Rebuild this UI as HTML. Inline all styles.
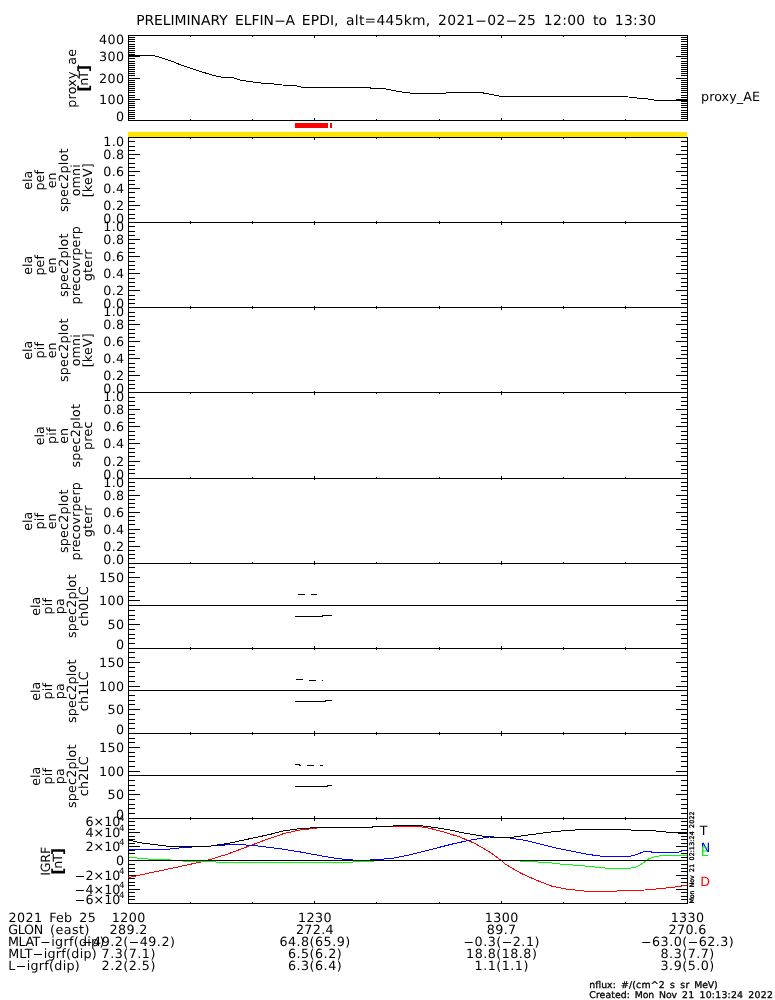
<!DOCTYPE html>
<html lang="en"><head><meta charset="utf-8"><title>ELFIN-A EPDI</title>
<style>html,body{margin:0;padding:0;background:#fff}svg{display:block}</style></head>
<body>
<svg width="775" height="1000" viewBox="0 0 775 1000" font-family='"DejaVu Sans", "Liberation Sans", sans-serif' text-rendering="geometricPrecision">
<rect width="775" height="1000" fill="#fff"/>
<text y="24.80" font-size="13.90"><tspan x="136.18" textLength="91.46" lengthAdjust="spacing">PRELIMINARY</tspan> <tspan x="235.03" textLength="38.99" lengthAdjust="spacing">ELFIN</tspan><tspan x="274.01" textLength="12.06" lengthAdjust="spacingAndGlyphs">-</tspan><tspan x="285.49">A</tspan> <tspan x="301.87" textLength="36.60" lengthAdjust="spacing">EPDI,</tspan> <tspan x="346.05" textLength="84.21" lengthAdjust="spacing">alt=445km,</tspan> <tspan x="438.02" textLength="36.68" lengthAdjust="spacing">2021</tspan><tspan x="474.92" textLength="12.06" lengthAdjust="spacingAndGlyphs">-</tspan><tspan x="487.20" textLength="18.12" lengthAdjust="spacing">02</tspan><tspan x="505.54" textLength="12.06" lengthAdjust="spacingAndGlyphs">-</tspan><tspan x="517.83" textLength="18.12" lengthAdjust="spacing">25</tspan> <tspan x="543.76" textLength="41.42" lengthAdjust="spacing">12:00</tspan> <tspan x="592.88" textLength="14.17" lengthAdjust="spacing">to</tspan> <tspan x="614.75" textLength="41.42" lengthAdjust="spacing">13:30</tspan></text>
<g shape-rendering="crispEdges">
<rect x="128" y="132" width="559" height="5" fill="#ffe600"/>
<rect x="295" y="123" width="33" height="5" fill="#ff0000"/>
<rect x="330" y="123" width="2" height="5" fill="#ff0000"/>
</g>
<text x="116.02" y="120.90" font-size="12.70">0</text>
<text x="99.06" y="103.95" font-size="12.70" textLength="25.04" lengthAdjust="spacing">100</text>
<text x="99.06" y="82.95" font-size="12.70" textLength="25.04" lengthAdjust="spacing">200</text>
<text x="99.06" y="60.95" font-size="12.70" textLength="25.04" lengthAdjust="spacing">300</text>
<text x="99.06" y="44.20" font-size="12.70" textLength="25.04" lengthAdjust="spacing">400</text>
<text x="103.27" y="222.90" font-size="12.70" textLength="20.87" lengthAdjust="spacing">0.0</text>
<text x="103.27" y="209.95" font-size="12.70" textLength="20.87" lengthAdjust="spacing">0.2</text>
<text x="103.27" y="192.95" font-size="12.70" textLength="20.87" lengthAdjust="spacing">0.4</text>
<text x="103.27" y="175.95" font-size="12.70" textLength="20.87" lengthAdjust="spacing">0.6</text>
<text x="103.27" y="158.95" font-size="12.70" textLength="20.87" lengthAdjust="spacing">0.8</text>
<text x="103.27" y="146.20" font-size="12.70" textLength="20.87" lengthAdjust="spacing">1.0</text>
<text x="103.27" y="307.90" font-size="12.70" textLength="20.87" lengthAdjust="spacing">0.0</text>
<text x="103.27" y="294.95" font-size="12.70" textLength="20.87" lengthAdjust="spacing">0.2</text>
<text x="103.27" y="277.95" font-size="12.70" textLength="20.87" lengthAdjust="spacing">0.4</text>
<text x="103.27" y="260.95" font-size="12.70" textLength="20.87" lengthAdjust="spacing">0.6</text>
<text x="103.27" y="243.95" font-size="12.70" textLength="20.87" lengthAdjust="spacing">0.8</text>
<text x="103.27" y="231.20" font-size="12.70" textLength="20.87" lengthAdjust="spacing">1.0</text>
<text x="103.27" y="392.90" font-size="12.70" textLength="20.87" lengthAdjust="spacing">0.0</text>
<text x="103.27" y="379.95" font-size="12.70" textLength="20.87" lengthAdjust="spacing">0.2</text>
<text x="103.27" y="362.95" font-size="12.70" textLength="20.87" lengthAdjust="spacing">0.4</text>
<text x="103.27" y="345.95" font-size="12.70" textLength="20.87" lengthAdjust="spacing">0.6</text>
<text x="103.27" y="328.95" font-size="12.70" textLength="20.87" lengthAdjust="spacing">0.8</text>
<text x="103.27" y="316.20" font-size="12.70" textLength="20.87" lengthAdjust="spacing">1.0</text>
<text x="103.27" y="478.90" font-size="12.70" textLength="20.87" lengthAdjust="spacing">0.0</text>
<text x="103.27" y="465.95" font-size="12.70" textLength="20.87" lengthAdjust="spacing">0.2</text>
<text x="103.27" y="447.95" font-size="12.70" textLength="20.87" lengthAdjust="spacing">0.4</text>
<text x="103.27" y="430.95" font-size="12.70" textLength="20.87" lengthAdjust="spacing">0.6</text>
<text x="103.27" y="413.95" font-size="12.70" textLength="20.87" lengthAdjust="spacing">0.8</text>
<text x="103.27" y="401.20" font-size="12.70" textLength="20.87" lengthAdjust="spacing">1.0</text>
<text x="103.27" y="563.90" font-size="12.70" textLength="20.87" lengthAdjust="spacing">0.0</text>
<text x="103.27" y="550.95" font-size="12.70" textLength="20.87" lengthAdjust="spacing">0.2</text>
<text x="103.27" y="533.95" font-size="12.70" textLength="20.87" lengthAdjust="spacing">0.4</text>
<text x="103.27" y="516.95" font-size="12.70" textLength="20.87" lengthAdjust="spacing">0.6</text>
<text x="103.27" y="499.95" font-size="12.70" textLength="20.87" lengthAdjust="spacing">0.8</text>
<text x="103.27" y="487.20" font-size="12.70" textLength="20.87" lengthAdjust="spacing">1.0</text>
<text x="116.02" y="648.90" font-size="12.70">0</text>
<text x="107.54" y="628.95" font-size="12.70" textLength="16.56" lengthAdjust="spacing">50</text>
<text x="99.06" y="604.95" font-size="12.70" textLength="25.04" lengthAdjust="spacing">100</text>
<text x="99.06" y="581.95" font-size="12.70" textLength="25.04" lengthAdjust="spacing">150</text>
<text x="116.02" y="733.90" font-size="12.70">0</text>
<text x="107.54" y="713.95" font-size="12.70" textLength="16.56" lengthAdjust="spacing">50</text>
<text x="99.06" y="690.95" font-size="12.70" textLength="25.04" lengthAdjust="spacing">100</text>
<text x="99.06" y="666.95" font-size="12.70" textLength="25.04" lengthAdjust="spacing">150</text>
<text x="116.02" y="818.90" font-size="12.70">0</text>
<text x="107.54" y="798.95" font-size="12.70" textLength="16.56" lengthAdjust="spacing">50</text>
<text x="99.06" y="775.95" font-size="12.70" textLength="25.04" lengthAdjust="spacing">100</text>
<text x="99.06" y="751.95" font-size="12.70" textLength="25.04" lengthAdjust="spacing">150</text>
<text y="904.00" font-size="12.70"><tspan x="74.51" textLength="11.02" lengthAdjust="spacingAndGlyphs">-</tspan><tspan x="85.52" textLength="34.80" lengthAdjust="spacing">6×10</tspan></text>
<text x="119.04" y="898.10" font-size="8.69">4</text>
<text y="893.95" font-size="12.70"><tspan x="74.51" textLength="11.02" lengthAdjust="spacingAndGlyphs">-</tspan><tspan x="85.52" textLength="34.80" lengthAdjust="spacing">4×10</tspan></text>
<text x="119.04" y="888.05" font-size="8.69">4</text>
<text y="879.95" font-size="12.70"><tspan x="74.51" textLength="11.02" lengthAdjust="spacingAndGlyphs">-</tspan><tspan x="85.52" textLength="34.80" lengthAdjust="spacing">2×10</tspan></text>
<text x="119.04" y="874.05" font-size="8.69">4</text>
<text x="116.02" y="864.95" font-size="12.70">0</text>
<text x="85.52" y="850.95" font-size="12.70" textLength="34.80" lengthAdjust="spacing">2×10</text>
<text x="119.04" y="845.05" font-size="8.69">4</text>
<text x="85.52" y="836.95" font-size="12.70" textLength="34.80" lengthAdjust="spacing">4×10</text>
<text x="119.04" y="831.05" font-size="8.69">4</text>
<text x="85.52" y="826.40" font-size="12.70" textLength="34.80" lengthAdjust="spacing">6×10</text>
<text x="119.04" y="820.50" font-size="8.69">4</text>
<text x="-29.37" y="0.00" font-size="12.70" textLength="58.74" lengthAdjust="spacing" transform="translate(75.90 78.30) rotate(-90)">proxy_ae</text>
<text x="-13.36" y="0" font-size="12.70" textLength="26.71" lengthAdjust="spacing" transform="translate(88.00 78.30) rotate(-90)"><tspan font-weight="bold" font-size="15.5" dy="1.2">[</tspan><tspan dy="-1.2">nT</tspan><tspan font-weight="bold" font-size="15.5" dy="1.2">]</tspan></text>
<text x="-9.55" y="0.00" font-size="12.70" textLength="19.10" lengthAdjust="spacing" transform="translate(32.30 180.30) rotate(-90)">ela</text>
<text x="-10.32" y="0.00" font-size="12.70" textLength="20.63" lengthAdjust="spacing" transform="translate(44.20 180.30) rotate(-90)">pef</text>
<text x="-7.89" y="0.00" font-size="12.70" textLength="15.78" lengthAdjust="spacing" transform="translate(56.10 180.30) rotate(-90)">en</text>
<text x="-31.71" y="0.00" font-size="12.70" textLength="63.41" lengthAdjust="spacing" transform="translate(68.00 180.30) rotate(-90)">spec2plot</text>
<text x="-16.05" y="0.00" font-size="12.70" textLength="32.10" lengthAdjust="spacing" transform="translate(79.90 180.30) rotate(-90)">omni</text>
<text x="-17.07" y="0.00" font-size="12.70" textLength="34.14" lengthAdjust="spacing" transform="translate(91.80 180.30) rotate(-90)">[keV]</text>
<text x="-9.55" y="0.00" font-size="12.70" textLength="19.10" lengthAdjust="spacing" transform="translate(32.30 265.30) rotate(-90)">ela</text>
<text x="-10.32" y="0.00" font-size="12.70" textLength="20.63" lengthAdjust="spacing" transform="translate(44.20 265.30) rotate(-90)">pef</text>
<text x="-7.89" y="0.00" font-size="12.70" textLength="15.78" lengthAdjust="spacing" transform="translate(56.10 265.30) rotate(-90)">en</text>
<text x="-31.71" y="0.00" font-size="12.70" textLength="63.41" lengthAdjust="spacing" transform="translate(68.00 265.30) rotate(-90)">spec2plot</text>
<text x="-39.18" y="0.00" font-size="12.70" textLength="78.35" lengthAdjust="spacing" transform="translate(79.90 265.30) rotate(-90)">precovrperp</text>
<text x="-15.83" y="0.00" font-size="12.70" textLength="31.66" lengthAdjust="spacing" transform="translate(91.80 265.30) rotate(-90)">gterr</text>
<text x="-9.55" y="0.00" font-size="12.70" textLength="19.10" lengthAdjust="spacing" transform="translate(32.30 350.30) rotate(-90)">ela</text>
<text x="-8.19" y="0.00" font-size="12.70" textLength="16.38" lengthAdjust="spacing" transform="translate(44.20 350.30) rotate(-90)">pif</text>
<text x="-7.89" y="0.00" font-size="12.70" textLength="15.78" lengthAdjust="spacing" transform="translate(56.10 350.30) rotate(-90)">en</text>
<text x="-31.71" y="0.00" font-size="12.70" textLength="63.41" lengthAdjust="spacing" transform="translate(68.00 350.30) rotate(-90)">spec2plot</text>
<text x="-16.05" y="0.00" font-size="12.70" textLength="32.10" lengthAdjust="spacing" transform="translate(79.90 350.30) rotate(-90)">omni</text>
<text x="-17.07" y="0.00" font-size="12.70" textLength="34.14" lengthAdjust="spacing" transform="translate(91.80 350.30) rotate(-90)">[keV]</text>
<text x="-9.55" y="0.00" font-size="12.70" textLength="19.10" lengthAdjust="spacing" transform="translate(44.20 435.80) rotate(-90)">ela</text>
<text x="-8.19" y="0.00" font-size="12.70" textLength="16.38" lengthAdjust="spacing" transform="translate(56.10 435.80) rotate(-90)">pif</text>
<text x="-7.89" y="0.00" font-size="12.70" textLength="15.78" lengthAdjust="spacing" transform="translate(68.00 435.80) rotate(-90)">en</text>
<text x="-31.71" y="0.00" font-size="12.70" textLength="63.41" lengthAdjust="spacing" transform="translate(79.90 435.80) rotate(-90)">spec2plot</text>
<text x="-14.29" y="0.00" font-size="12.70" textLength="28.58" lengthAdjust="spacing" transform="translate(91.80 435.80) rotate(-90)">prec</text>
<text x="-9.55" y="0.00" font-size="12.70" textLength="19.10" lengthAdjust="spacing" transform="translate(32.30 521.30) rotate(-90)">ela</text>
<text x="-8.19" y="0.00" font-size="12.70" textLength="16.38" lengthAdjust="spacing" transform="translate(44.20 521.30) rotate(-90)">pif</text>
<text x="-7.89" y="0.00" font-size="12.70" textLength="15.78" lengthAdjust="spacing" transform="translate(56.10 521.30) rotate(-90)">en</text>
<text x="-31.71" y="0.00" font-size="12.70" textLength="63.41" lengthAdjust="spacing" transform="translate(68.00 521.30) rotate(-90)">spec2plot</text>
<text x="-39.18" y="0.00" font-size="12.70" textLength="78.35" lengthAdjust="spacing" transform="translate(79.90 521.30) rotate(-90)">precovrperp</text>
<text x="-15.83" y="0.00" font-size="12.70" textLength="31.66" lengthAdjust="spacing" transform="translate(91.80 521.30) rotate(-90)">gterr</text>
<text x="-9.55" y="0.00" font-size="12.70" textLength="19.10" lengthAdjust="spacing" transform="translate(40.10 606.30) rotate(-90)">ela</text>
<text x="-8.19" y="0.00" font-size="12.70" textLength="16.38" lengthAdjust="spacing" transform="translate(52.00 606.30) rotate(-90)">pif</text>
<text x="-7.99" y="0.00" font-size="12.70" textLength="15.98" lengthAdjust="spacing" transform="translate(63.90 606.30) rotate(-90)">pa</text>
<text x="-31.71" y="0.00" font-size="12.70" textLength="63.41" lengthAdjust="spacing" transform="translate(75.80 606.30) rotate(-90)">spec2plot</text>
<text x="-20.02" y="0.00" font-size="12.70" textLength="40.04" lengthAdjust="spacing" transform="translate(87.70 606.30) rotate(-90)">ch0LC</text>
<text x="-9.55" y="0.00" font-size="12.70" textLength="19.10" lengthAdjust="spacing" transform="translate(40.10 691.30) rotate(-90)">ela</text>
<text x="-8.19" y="0.00" font-size="12.70" textLength="16.38" lengthAdjust="spacing" transform="translate(52.00 691.30) rotate(-90)">pif</text>
<text x="-7.99" y="0.00" font-size="12.70" textLength="15.98" lengthAdjust="spacing" transform="translate(63.90 691.30) rotate(-90)">pa</text>
<text x="-31.71" y="0.00" font-size="12.70" textLength="63.41" lengthAdjust="spacing" transform="translate(75.80 691.30) rotate(-90)">spec2plot</text>
<text x="-20.02" y="0.00" font-size="12.70" textLength="40.04" lengthAdjust="spacing" transform="translate(87.70 691.30) rotate(-90)">ch1LC</text>
<text x="-9.55" y="0.00" font-size="12.70" textLength="19.10" lengthAdjust="spacing" transform="translate(40.10 776.30) rotate(-90)">ela</text>
<text x="-8.19" y="0.00" font-size="12.70" textLength="16.38" lengthAdjust="spacing" transform="translate(52.00 776.30) rotate(-90)">pif</text>
<text x="-7.99" y="0.00" font-size="12.70" textLength="15.98" lengthAdjust="spacing" transform="translate(63.90 776.30) rotate(-90)">pa</text>
<text x="-31.71" y="0.00" font-size="12.70" textLength="63.41" lengthAdjust="spacing" transform="translate(75.80 776.30) rotate(-90)">spec2plot</text>
<text x="-20.02" y="0.00" font-size="12.70" textLength="40.04" lengthAdjust="spacing" transform="translate(87.70 776.30) rotate(-90)">ch2LC</text>
<text x="-14.53" y="0.00" font-size="12.70" textLength="29.05" lengthAdjust="spacing" transform="translate(49.90 861.30) rotate(-90)">IGRF</text>
<text x="-13.36" y="0" font-size="12.70" textLength="26.71" lengthAdjust="spacing" transform="translate(62.00 861.30) rotate(-90)"><tspan font-weight="bold" font-size="15.5" dy="1.2">[</tspan><tspan dy="-1.2">nT</tspan><tspan font-weight="bold" font-size="15.5" dy="1.2">]</tspan></text>
<text x="701.03" y="101.00" font-size="12.70" textLength="58.88" lengthAdjust="spacing">proxy_AE</text>
<text x="699.81" y="835.00" font-size="12.70">T</text>
<text x="700.71" y="851.70" font-size="12.70" fill="#0000ff">N</text>
<text x="700.81" y="855.70" font-size="12.70" fill="#00ff00">E</text>
<text x="700.36" y="885.90" font-size="12.70" fill="#ff0000">D</text>
<text y="0.00" font-size="6.23" transform="translate(693.90 903.50) rotate(-90)" stroke="#000" stroke-width="0.35"><tspan x="-0.04" textLength="12.98" lengthAdjust="spacing">Mon</tspan> <tspan x="16.17" textLength="11.96" lengthAdjust="spacing">Nov</tspan> <tspan x="31.51" textLength="8.12" lengthAdjust="spacing">21</tspan> <tspan x="43.13" textLength="28.98" lengthAdjust="spacing">02:13:24</tspan> <tspan x="75.60" textLength="16.44" lengthAdjust="spacing">2022</tspan></text>
<path d="M128 35.5H688M128 120.5H688M128.5 35V121M687.5 35V121M128.5 36V38M128.5 118V120M190.5 36V37M190.5 119V120M252.5 36V37M252.5 119V120M314.5 36V38M314.5 118V120M376.5 36V37M376.5 119V120M439.5 36V37M439.5 119V120M501.5 36V38M501.5 118V120M563.5 36V37M563.5 119V120M625.5 36V37M625.5 119V120M687.5 36V38M687.5 118V120M129 120.5H140M676 120.5H687M129 118.5H135M681 118.5H687M129 116.5H135M681 116.5H687M129 114.5H135M681 114.5H687M129 112.5H135M681 112.5H687M129 110.5H135M681 110.5H687M129 107.5H135M681 107.5H687M129 105.5H135M681 105.5H687M129 103.5H135M681 103.5H687M129 101.5H135M681 101.5H687M129 99.5H140M676 99.5H687M129 97.5H135M681 97.5H687M129 95.5H135M681 95.5H687M129 92.5H135M681 92.5H687M129 90.5H135M681 90.5H687M129 88.5H135M681 88.5H687M129 86.5H135M681 86.5H687M129 84.5H135M681 84.5H687M129 82.5H135M681 82.5H687M129 80.5H135M681 80.5H687M129 78.5H140M676 78.5H687M129 75.5H135M681 75.5H687M129 73.5H135M681 73.5H687M129 71.5H135M681 71.5H687M129 69.5H135M681 69.5H687M129 67.5H135M681 67.5H687M129 65.5H135M681 65.5H687M129 63.5H135M681 63.5H687M129 61.5H135M681 61.5H687M129 58.5H135M681 58.5H687M129 56.5H140M676 56.5H687M129 54.5H135M681 54.5H687M129 52.5H135M681 52.5H687M129 50.5H135M681 50.5H687M129 48.5H135M681 48.5H687M129 46.5H135M681 46.5H687M129 44.5H135M681 44.5H687M129 41.5H135M681 41.5H687M129 39.5H135M681 39.5H687M129 37.5H135M681 37.5H687M129 35.5H140M676 35.5H687M128 137.5H688M128 222.5H688M128.5 137V223M687.5 137V223M128.5 138V140M128.5 221V222M190.5 138V139M190.5 221V222M252.5 138V139M252.5 221V222M314.5 138V140M314.5 221V222M376.5 138V139M376.5 221V222M439.5 138V139M439.5 221V222M501.5 138V140M501.5 221V222M563.5 138V139M563.5 221V222M625.5 138V139M625.5 221V222M687.5 138V140M687.5 221V222M129 222.5H140M676 222.5H687M129 218.5H135M681 218.5H687M129 214.5H135M681 214.5H687M129 209.5H135M681 209.5H687M129 205.5H140M676 205.5H687M129 201.5H135M681 201.5H687M129 197.5H135M681 197.5H687M129 192.5H135M681 192.5H687M129 188.5H140M676 188.5H687M129 184.5H135M681 184.5H687M129 180.5H135M681 180.5H687M129 175.5H135M681 175.5H687M129 171.5H140M676 171.5H687M129 167.5H135M681 167.5H687M129 163.5H135M681 163.5H687M129 158.5H135M681 158.5H687M129 154.5H140M676 154.5H687M129 150.5H135M681 150.5H687M129 146.5H135M681 146.5H687M129 141.5H135M681 141.5H687M129 137.5H140M676 137.5H687M128 222.5H688M128 307.5H688M128.5 222V308M687.5 222V308M128.5 223V225M128.5 306V307M190.5 223V224M190.5 306V307M252.5 223V224M252.5 306V307M314.5 223V225M314.5 306V307M376.5 223V224M376.5 306V307M439.5 223V224M439.5 306V307M501.5 223V225M501.5 306V307M563.5 223V224M563.5 306V307M625.5 223V224M625.5 306V307M687.5 223V225M687.5 306V307M129 307.5H140M676 307.5H687M129 303.5H135M681 303.5H687M129 299.5H135M681 299.5H687M129 295.5H135M681 295.5H687M129 290.5H140M676 290.5H687M129 286.5H135M681 286.5H687M129 282.5H135M681 282.5H687M129 278.5H135M681 278.5H687M129 273.5H140M676 273.5H687M129 269.5H135M681 269.5H687M129 265.5H135M681 265.5H687M129 261.5H135M681 261.5H687M129 256.5H140M676 256.5H687M129 252.5H135M681 252.5H687M129 248.5H135M681 248.5H687M129 243.5H135M681 243.5H687M129 239.5H140M676 239.5H687M129 235.5H135M681 235.5H687M129 231.5H135M681 231.5H687M129 226.5H135M681 226.5H687M129 222.5H140M676 222.5H687M128 307.5H688M128 392.5H688M128.5 307V393M687.5 307V393M128.5 308V310M128.5 391V392M190.5 308V309M252.5 308V309M314.5 308V310M314.5 391V392M376.5 308V309M439.5 308V309M501.5 308V310M501.5 391V392M563.5 308V309M625.5 308V309M687.5 308V310M687.5 391V392M129 392.5H140M676 392.5H687M129 388.5H135M681 388.5H687M129 384.5H135M681 384.5H687M129 380.5H135M681 380.5H687M129 375.5H140M676 375.5H687M129 371.5H135M681 371.5H687M129 367.5H135M681 367.5H687M129 363.5H135M681 363.5H687M129 358.5H140M676 358.5H687M129 354.5H135M681 354.5H687M129 350.5H135M681 350.5H687M129 346.5H135M681 346.5H687M129 341.5H140M676 341.5H687M129 337.5H135M681 337.5H687M129 333.5H135M681 333.5H687M129 329.5H135M681 329.5H687M129 324.5H140M676 324.5H687M129 320.5H135M681 320.5H687M129 316.5H135M681 316.5H687M129 312.5H135M681 312.5H687M129 307.5H140M676 307.5H687M128 392.5H688M128 478.5H688M128.5 392V479M687.5 392V479M128.5 393V395M128.5 476V478M190.5 393V394M190.5 477V478M252.5 393V394M252.5 477V478M314.5 393V395M314.5 476V478M376.5 393V394M376.5 477V478M439.5 393V394M439.5 477V478M501.5 393V395M501.5 476V478M563.5 393V394M563.5 477V478M625.5 393V394M625.5 477V478M687.5 393V395M687.5 476V478M129 478.5H140M676 478.5H687M129 473.5H135M681 473.5H687M129 469.5H135M681 469.5H687M129 465.5H135M681 465.5H687M129 461.5H140M676 461.5H687M129 456.5H135M681 456.5H687M129 452.5H135M681 452.5H687M129 448.5H135M681 448.5H687M129 443.5H140M676 443.5H687M129 439.5H135M681 439.5H687M129 435.5H135M681 435.5H687M129 431.5H135M681 431.5H687M129 426.5H140M676 426.5H687M129 422.5H135M681 422.5H687M129 418.5H135M681 418.5H687M129 414.5H135M681 414.5H687M129 409.5H140M676 409.5H687M129 405.5H135M681 405.5H687M129 401.5H135M681 401.5H687M129 397.5H135M681 397.5H687M129 392.5H140M676 392.5H687M128 478.5H688M128 563.5H688M128.5 478V564M687.5 478V564M128.5 479V480M128.5 561V563M190.5 562V563M252.5 562V563M314.5 479V480M314.5 561V563M376.5 562V563M439.5 562V563M501.5 479V480M501.5 561V563M563.5 562V563M625.5 562V563M687.5 479V480M687.5 561V563M129 563.5H140M676 563.5H687M129 558.5H135M681 558.5H687M129 554.5H135M681 554.5H687M129 550.5H135M681 550.5H687M129 546.5H140M676 546.5H687M129 541.5H135M681 541.5H687M129 537.5H135M681 537.5H687M129 533.5H135M681 533.5H687M129 529.5H140M676 529.5H687M129 524.5H135M681 524.5H687M129 520.5H135M681 520.5H687M129 516.5H135M681 516.5H687M129 512.5H140M676 512.5H687M129 507.5H135M681 507.5H687M129 503.5H135M681 503.5H687M129 499.5H135M681 499.5H687M129 495.5H140M676 495.5H687M129 490.5H135M681 490.5H687M129 486.5H135M681 486.5H687M129 482.5H135M681 482.5H687M129 478.5H140M676 478.5H687M128 563.5H688M128 648.5H688M128.5 563V649M687.5 563V649M128.5 564V565M128.5 646V648M190.5 647V648M252.5 647V648M314.5 564V565M314.5 646V648M376.5 647V648M439.5 647V648M501.5 564V565M501.5 646V648M563.5 647V648M625.5 647V648M687.5 564V565M687.5 646V648M129 648.5H140M676 648.5H687M129 643.5H135M681 643.5H687M129 638.5H135M681 638.5H687M129 634.5H135M681 634.5H687M129 629.5H135M681 629.5H687M129 624.5H140M676 624.5H687M129 619.5H135M681 619.5H687M129 615.5H135M681 615.5H687M129 610.5H135M681 610.5H687M129 605.5H135M681 605.5H687M129 600.5H140M676 600.5H687M129 596.5H135M681 596.5H687M129 591.5H135M681 591.5H687M129 586.5H135M681 586.5H687M129 582.5H135M681 582.5H687M129 577.5H140M676 577.5H687M129 572.5H135M681 572.5H687M129 567.5H135M681 567.5H687M129 563.5H135M681 563.5H687M128 648.5H688M128 733.5H688M128.5 648V734M687.5 648V734M128.5 649V650M128.5 731V733M190.5 649V650M190.5 732V733M252.5 649V650M252.5 732V733M314.5 649V650M314.5 731V733M376.5 649V650M376.5 732V733M439.5 649V650M439.5 732V733M501.5 649V650M501.5 731V733M563.5 649V650M563.5 732V733M625.5 649V650M625.5 732V733M687.5 649V650M687.5 731V733M129 733.5H140M676 733.5H687M129 728.5H135M681 728.5H687M129 723.5H135M681 723.5H687M129 719.5H135M681 719.5H687M129 714.5H135M681 714.5H687M129 709.5H140M676 709.5H687M129 704.5H135M681 704.5H687M129 700.5H135M681 700.5H687M129 695.5H135M681 695.5H687M129 690.5H135M681 690.5H687M129 686.5H140M676 686.5H687M129 681.5H135M681 681.5H687M129 676.5H135M681 676.5H687M129 671.5H135M681 671.5H687M129 667.5H135M681 667.5H687M129 662.5H140M676 662.5H687M129 657.5H135M681 657.5H687M129 652.5H135M681 652.5H687M129 648.5H135M681 648.5H687M128 733.5H688M128 818.5H688M128.5 733V819M687.5 733V819M128.5 734V736M128.5 816V818M190.5 734V735M190.5 817V818M252.5 734V735M252.5 817V818M314.5 734V736M314.5 816V818M376.5 734V735M376.5 817V818M439.5 734V735M439.5 817V818M501.5 734V736M501.5 816V818M563.5 734V735M563.5 817V818M625.5 734V735M625.5 817V818M687.5 734V736M687.5 816V818M129 818.5H140M676 818.5H687M129 813.5H135M681 813.5H687M129 808.5H135M681 808.5H687M129 804.5H135M681 804.5H687M129 799.5H135M681 799.5H687M129 794.5H140M676 794.5H687M129 790.5H135M681 790.5H687M129 785.5H135M681 785.5H687M129 780.5H135M681 780.5H687M129 775.5H135M681 775.5H687M129 771.5H140M676 771.5H687M129 766.5H135M681 766.5H687M129 761.5H135M681 761.5H687M129 756.5H135M681 756.5H687M129 752.5H135M681 752.5H687M129 747.5H140M676 747.5H687M129 742.5H135M681 742.5H687M129 738.5H135M681 738.5H687M129 733.5H135M681 733.5H687M128 818.5H688M128 903.5H688M128.5 818V904M687.5 818V904M128.5 819V821M128.5 901V903M190.5 819V820M190.5 902V903M252.5 819V820M252.5 902V903M314.5 819V821M314.5 901V903M376.5 819V820M376.5 902V903M439.5 819V820M439.5 902V903M501.5 819V821M501.5 901V903M563.5 819V820M563.5 902V903M625.5 819V820M625.5 902V903M687.5 819V821M687.5 901V903M129 903.5H140M676 903.5H687M129 899.5H135M681 899.5H687M129 896.5H135M681 896.5H687M129 892.5H135M681 892.5H687M129 889.5H140M676 889.5H687M129 885.5H135M681 885.5H687M129 882.5H135M681 882.5H687M129 878.5H135M681 878.5H687M129 875.5H140M676 875.5H687M129 871.5H135M681 871.5H687M129 868.5H135M681 868.5H687M129 864.5H135M681 864.5H687M129 860.5H140M676 860.5H687M129 857.5H135M681 857.5H687M129 853.5H135M681 853.5H687M129 850.5H135M681 850.5H687M129 846.5H140M676 846.5H687M129 843.5H135M681 843.5H687M129 839.5H135M681 839.5H687M129 836.5H135M681 836.5H687M129 832.5H140M676 832.5H687M129 829.5H135M681 829.5H687M129 825.5H135M681 825.5H687M129 821.5H135M681 821.5H687M129 818.5H140M676 818.5H687" fill="none" stroke="#000" stroke-width="1" shape-rendering="crispEdges"/>
<path d="M128.5 55.6 L152.0 55.5 L157.3 56.4 L172.7 61.5 L180.5 64.8 L199.8 71.3 L215.3 75.9 L221.8 77.2 L232.0 77.4 L241.0 80.3 L259.0 82.9 L270.8 83.7 L282.4 85.0 L295.3 85.6 L303.0 87.4 L369.7 87.4 L370.7 88.4 L382.6 88.4 L403.2 92.3 L414.8 93.5 L444.5 93.5 L447.0 92.5 L480.6 92.5 L491.0 94.3 L501.6 96.5 L624.2 96.5 L637.0 98.0 L650.0 99.2 L656.5 100.5 L687.0 100.5" fill="none" stroke="#000" stroke-width="1" shape-rendering="crispEdges"/>
<path d="M128.5 877.6 L150.8 872.7 L176.6 867.3 L202.4 861.6 L207.6 860.3 L228.2 853.9 L248.9 846.1 L269.5 838.4 L285.0 833.2 L300.5 829.9 L316.0 828.2 L318.0 827.6 L372.0 827.4 L373.0 826.4 L394.0 826.4 L421.0 826.8 L431.0 828.6 L444.0 832.0 L459.7 837.0 L475.0 843.5 L490.6 852.6 L501.0 860.3 L505.3 864.2 L520.8 873.2 L536.3 880.2 L551.8 886.1 L567.3 889.2 L588.0 891.4 L616.3 891.4 L618.9 890.4 L644.7 890.0 L660.0 888.7 L675.6 886.9 L687.0 885.4" fill="none" stroke="#ff0000" stroke-width="1" shape-rendering="crispEdges"/>
<path d="M128.5 857.7 L147.0 858.4 L148.0 859.2 L166.0 859.6 L177.0 860.5 L188.0 861.5 L215.0 861.5 L216.6 862.5 L352.6 862.5 L353.9 861.5 L368.8 861.5 L380.0 860.5 L520.0 860.5 L521.0 861.5 L537.6 861.5 L539.0 862.5 L549.0 862.6 L562.0 864.2 L580.0 865.5 L593.0 866.8 L608.5 868.4 L629.0 868.4 L637.0 866.8 L643.4 862.9 L648.5 859.0 L655.0 856.5 L662.7 855.5 L687.0 855.5" fill="none" stroke="#00ff00" stroke-width="1" shape-rendering="crispEdges"/>
<path d="M128.5 850.0 L166.0 849.5 L184.4 847.4 L210.0 846.1 L228.0 844.8 L243.7 844.8 L259.0 846.1 L280.0 848.7 L300.5 852.0 L316.0 854.9 L325.0 856.5 L335.8 858.3 L348.7 859.8 L362.0 860.5 L377.0 859.6 L392.6 858.3 L408.0 855.2 L423.5 851.3 L439.0 847.4 L454.5 843.5 L470.0 840.2 L485.5 837.6 L490.6 836.8 L509.0 837.9 L526.0 840.5 L541.5 844.3 L557.0 848.2 L572.4 851.3 L588.0 854.4 L603.4 856.5 L629.2 856.5 L637.0 854.4 L644.7 851.4 L650.0 851.4 L652.4 852.4 L678.2 852.4 L682.0 850.8 L687.0 850.5" fill="none" stroke="#0000ff" stroke-width="1" shape-rendering="crispEdges"/>
<path d="M128.5 840.0 L140.5 842.8 L166.3 846.1 L189.5 846.9 L210.0 846.1 L228.0 843.5 L249.0 838.9 L269.5 834.5 L285.0 830.6 L300.5 828.6 L316.0 827.6 L372.0 827.4 L373.0 826.4 L392.6 826.4 L394.0 825.5 L421.0 825.5 L423.5 826.3 L434.0 827.3 L449.4 829.9 L464.8 833.2 L480.3 835.8 L490.6 837.1 L513.0 837.2 L528.5 835.0 L546.6 832.5 L563.0 830.8 L583.0 829.5 L629.2 829.5 L631.8 830.4 L652.4 830.6 L670.5 832.5 L687.0 833.7" fill="none" stroke="#000" stroke-width="1" shape-rendering="crispEdges"/>
<path d="M128 605.5H688M128 690.5H688M128 775.5H688M128 860.5H688M298 594.5H305M311 594.5H317M295 616.5H323M322 615.5H332M296 679.5H303M309 680.5H316M322 680.5H323M295 701.5H326M325 700.5H332M295 764.5H300M299 765.5H301M307 765.5H314M320 765.5H323M295 786.5H328M327 785.5H332" fill="none" stroke="#000" stroke-width="1" shape-rendering="crispEdges"/>
<text y="921.90" font-size="12.70"><tspan x="8.50" textLength="33.52" lengthAdjust="spacing">2021</tspan> <tspan x="49.14" textLength="23.04" lengthAdjust="spacing">Feb</tspan> <tspan x="79.31" textLength="16.56" lengthAdjust="spacing">25</tspan></text>
<text y="933.80" font-size="12.70"><tspan x="8.15" textLength="35.07" lengthAdjust="spacing">GLON</tspan> <tspan x="50.08" textLength="39.40" lengthAdjust="spacing">(east)</tspan></text>
<text y="945.70" font-size="12.70"><tspan x="8.05" textLength="32.30" lengthAdjust="spacing">MLAT</tspan><tspan x="40.10" textLength="11.02" lengthAdjust="spacingAndGlyphs">-</tspan><tspan x="51.27" textLength="53.14" lengthAdjust="spacing">igrf(dip)</tspan></text>
<text y="957.60" font-size="12.70"><tspan x="8.32" textLength="24.13" lengthAdjust="spacing">MLT</tspan><tspan x="32.47" textLength="11.02" lengthAdjust="spacingAndGlyphs">-</tspan><tspan x="43.63" textLength="53.14" lengthAdjust="spacing">igrf(dip)</tspan></text>
<text y="969.50" font-size="12.70"><tspan x="8.37">L</tspan><tspan x="15.51" textLength="11.02" lengthAdjust="spacingAndGlyphs">-</tspan><tspan x="26.67" textLength="53.14" lengthAdjust="spacing">igrf(dip)</tspan></text>
<text x="111.74" y="921.90" font-size="12.70" textLength="33.52" lengthAdjust="spacing">1200</text>
<text x="109.60" y="933.80" font-size="12.70" textLength="37.80" lengthAdjust="spacing">289.2</text>
<text y="945.70" font-size="12.70"><tspan x="81.86" textLength="11.02" lengthAdjust="spacingAndGlyphs">-</tspan><tspan x="93.12" textLength="35.14" lengthAdjust="spacing">49.2(</tspan><tspan x="128.50" textLength="11.02" lengthAdjust="spacingAndGlyphs">-</tspan><tspan x="139.76" textLength="35.14" lengthAdjust="spacing">49.2)</tspan></text>
<text x="101.61" y="957.60" font-size="12.70" textLength="53.78" lengthAdjust="spacing">7.3(7.1)</text>
<text x="101.61" y="969.50" font-size="12.70" textLength="53.78" lengthAdjust="spacing">2.2(2.5)</text>
<text x="298.04" y="921.90" font-size="12.70" textLength="33.52" lengthAdjust="spacing">1230</text>
<text x="295.90" y="933.80" font-size="12.70" textLength="37.80" lengthAdjust="spacing">272.4</text>
<text x="279.42" y="945.70" font-size="12.70" textLength="70.76" lengthAdjust="spacing">64.8(65.9)</text>
<text x="287.91" y="957.60" font-size="12.70" textLength="53.78" lengthAdjust="spacing">6.5(6.2)</text>
<text x="287.91" y="969.50" font-size="12.70" textLength="53.78" lengthAdjust="spacing">6.3(6.4)</text>
<text x="484.74" y="921.90" font-size="12.70" textLength="33.52" lengthAdjust="spacing">1300</text>
<text x="486.83" y="933.80" font-size="12.70" textLength="29.33" lengthAdjust="spacing">89.7</text>
<text y="945.70" font-size="12.70"><tspan x="463.34" textLength="11.02" lengthAdjust="spacingAndGlyphs">-</tspan><tspan x="474.61" textLength="26.64" lengthAdjust="spacing">0.3(</tspan><tspan x="501.50" textLength="11.02" lengthAdjust="spacingAndGlyphs">-</tspan><tspan x="512.77" textLength="26.64" lengthAdjust="spacing">2.1)</tspan></text>
<text x="466.12" y="957.60" font-size="12.70" textLength="70.76" lengthAdjust="spacing">18.8(18.8)</text>
<text x="474.61" y="969.50" font-size="12.70" textLength="53.78" lengthAdjust="spacing">1.1(1.1)</text>
<text x="670.64" y="921.90" font-size="12.70" textLength="33.52" lengthAdjust="spacing">1330</text>
<text x="668.50" y="933.80" font-size="12.70" textLength="37.80" lengthAdjust="spacing">270.6</text>
<text y="945.70" font-size="12.70"><tspan x="640.76" textLength="11.02" lengthAdjust="spacingAndGlyphs">-</tspan><tspan x="652.02" textLength="35.14" lengthAdjust="spacing">63.0(</tspan><tspan x="687.40" textLength="11.02" lengthAdjust="spacingAndGlyphs">-</tspan><tspan x="698.66" textLength="35.14" lengthAdjust="spacing">62.3)</tspan></text>
<text x="660.51" y="957.60" font-size="12.70" textLength="53.78" lengthAdjust="spacing">8.3(7.7)</text>
<text x="660.51" y="969.50" font-size="12.70" textLength="53.78" lengthAdjust="spacing">3.9(5.0)</text>
<text y="987.80" font-size="9.35" stroke="#000" stroke-width="0.3"><tspan x="589.31" textLength="26.50" lengthAdjust="spacing">nflux:</tspan> <tspan x="620.91" textLength="43.80" lengthAdjust="spacing">#/(cm^2</tspan> <tspan x="670.01">s</tspan> <tspan x="680.25" textLength="9.04" lengthAdjust="spacing">sr</tspan> <tspan x="694.35" textLength="23.28" lengthAdjust="spacing">MeV)</tspan></text>
<text y="998.30" font-size="9.35" stroke="#000" stroke-width="0.3"><tspan x="589.33" textLength="40.51" lengthAdjust="spacing">Created:</tspan> <tspan x="634.79" textLength="19.47" lengthAdjust="spacing">Mon</tspan> <tspan x="659.11" textLength="17.94" lengthAdjust="spacing">Nov</tspan> <tspan x="682.11" textLength="12.19" lengthAdjust="spacing">21</tspan> <tspan x="699.54" textLength="43.47" lengthAdjust="spacing">10:13:24</tspan> <tspan x="748.25" textLength="24.67" lengthAdjust="spacing">2022</tspan></text>
</svg>
</body></html>
